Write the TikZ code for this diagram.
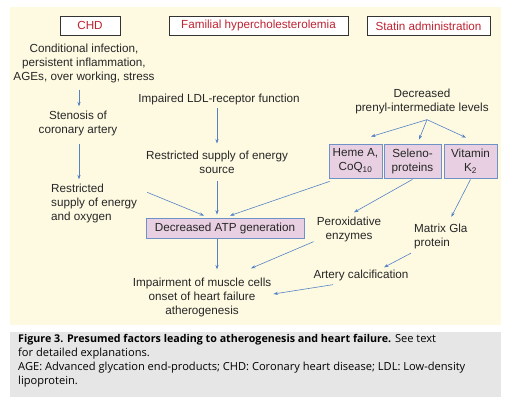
\documentclass[tikz,border=0pt]{standalone}
\usepackage{fontspec}
\setmainfont{Liberation Sans}
\newfontfamily\capfont{Open Sans}
\usetikzlibrary{arrows.meta,calc}
\definecolor{cream}{RGB}{254,250,226}
\definecolor{capgray}{RGB}{230,230,230}
\definecolor{arrblue}{RGB}{84,130,196}
\definecolor{boxpink}{RGB}{232,208,226}
\definecolor{boxblue}{RGB}{110,145,200}
\definecolor{hdred}{RGB}{190,35,50}
\begin{document}
\begin{tikzpicture}[x=1pt,y=-1pt,
  every node/.style={font=\fontsize{11.7}{14}\selectfont, text=black!85},
  txt/.style={inner sep=0pt, align=center},
  ltxt/.style={inner sep=0pt, align=left},
  hdbox/.style={draw=black!80, line width=0.6pt, fill=white, text=hdred, minimum height=19pt, inner sep=0pt},
  pbox/.style={draw=boxblue, line width=0.8pt, fill=boxpink, inner sep=0pt, align=center},
  arr/.style={draw=arrblue, line width=0.6pt, -{Stealth[length=4.5pt,width=3.2pt]}}]
\useasboundingbox (0,0) rectangle (515,407);
\fill[white] (0,0) rectangle (515,407);
\fill[cream] (10,7) rectangle (501,325);
\fill[capgray] (10,332) rectangle (501,397);
% headers
\node[hdbox, minimum width=60pt] (chd) at (90,25.5) {CHD};
\node[hdbox, minimum width=179pt] (fh) at (258.5,25.5) {Familial hypercholesterolemia};
\node[hdbox, minimum width=123pt] (statin) at (428.5,26) {Statin administration};
% left column
\node[txt] (cond) at (84,63) {Conditional infection,\\persistent inflammation,\\AGEs, over working, stress};
\node[txt] (sten) at (78,123) {Stenosis of\\coronary artery};
\node[ltxt, anchor=west] (rso) at (51,203) {Restricted\\supply of energy\\and oxygen};
% middle column
\node[txt] (ldl) at (219,99) {Impaired LDL-receptor function};
\node[txt] (rse) at (217,162) {Restricted supply of energy\\source};
\node[pbox, minimum width=158pt, minimum height=20pt] (atp) at (225,228) {Decreased ATP generation};
\node[txt] (imp) at (202,297) {Impairment of muscle cells\\onset of heart failure\\atherogenesis};
% right column
\node[txt] (pren) at (422,101) {Decreased\\prenyl-intermediate levels};
\node[pbox, minimum width=53pt, minimum height=34pt] (heme) at (355.5,161) {Heme A,\\CoQ\textsubscript{10}};
\node[pbox, minimum width=57pt, minimum height=34pt] (sel) at (412.5,161) {Seleno-\\proteins};
\node[pbox, minimum width=53pt, minimum height=34pt] (vit) at (470.5,161) {Vitamin\\K\textsubscript{2}};
\node[txt] (perox) at (349,229) {Peroxidative\\enzymes};
\node[ltxt, anchor=west] (mgp) at (414,236.5) {Matrix Gla\\protein};
\node[txt] (artc) at (361,275) {Artery calcification};
% arrows
\draw[arr] ($(cond.south)+(-5,7)$) -- ($(sten.north)+(1,-4)$);
\draw[arr] ($(sten.south)+(1,8)$) -- ($(rso.north -| sten.south)+(1,-4)$);
\draw[arr] ($(ldl.south -| rse.north)+(0,3)$) -- ($(rse.north)+(0,-7)$);
\draw[arr] ($(rse.south)+(0,8)$) -- ($(atp.north)+(-8,-3)$);
\draw[arr] ($(rso.north east)+(10,9)$) -- ($(atp.north)+(-21,-2)$);
\draw[arr] ($(heme.south west)+(1,3)$) -- ($(atp.north)+(5,-2)$);
\draw[arr] ($(atp.south)+(-8,1)$) -- ($(imp.north)+(15,-8)$);
\draw[arr] ($(pren.south)+(5,6)$) -- ($(heme.north)+(15.5,-7)$);
\draw[arr] ($(pren.south)+(5,6)$) -- ($(sel.north)+(6.5,-4)$);
\draw[arr] ($(pren.south)+(5,6)$) -- ($(vit.north)+(-4.5,-6)$);
\draw[arr] ($(sel.south)+(0,1)$) -- ($(perox.north)+(5,-4)$);
\draw[arr] ($(perox.south west)+(-3,0)$) -- ($(imp.north)+(49,-9)$);
\draw[arr] ($(vit.south)+(0,1)$) -- ($(mgp.north)+(10.5,-7)$);
\draw[arr] ($(mgp.south west)+(-3,4)$) -- ($(artc.north)+(23,-2)$);
\draw[arr] ($(artc.south)+(-28,4)$) -- ($(imp.east)+(2,-3)$);
% caption
\node[anchor=north west, inner sep=0pt, align=left, font=\capfont\fontsize{11.1}{14}\selectfont, text=black] (cap) at (18,334)
{{\fontsize{10.7}{14}\selectfont\textbf{Figure 3. Presumed factors leading to atherogenesis and heart failure.}} See text\\for detailed explanations.\\AGE: Advanced glycation end-products; CHD: Coronary heart disease; LDL: Low-density\\lipoprotein.};
\end{tikzpicture}
\end{document}
